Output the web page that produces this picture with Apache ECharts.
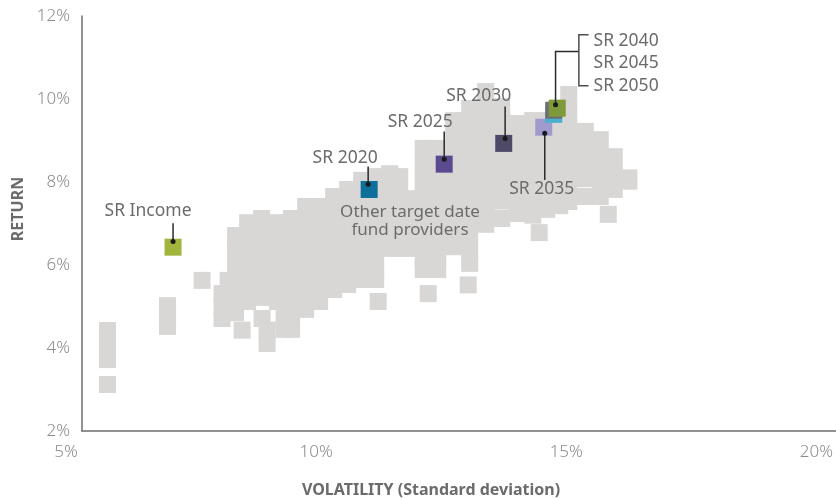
<!DOCTYPE html>
<html><head><meta charset="utf-8">
<script src="https://cdn.jsdelivr.net/npm/echarts@6/dist/echarts.min.js"></script>
<style>html,body{margin:0;padding:0;background:#fff}#c{width:836px;height:499px}</style>
</head><body><div id="c"></div>
<script>
// ---- data ----
const xTicks = [5, 10, 15, 20];
const yTicks = [2, 4, 6, 8, 10, 12];
const xTitle = 'VOLATILITY (Standard deviation)';
const yTitle = 'RETURN';
const otherLabel = ['Other target date', 'fund providers'];

const srNames = ['SR Income', 'SR 2020', 'SR 2025', 'SR 2030', 'SR 2035', 'SR 2050', 'SR 2045', 'SR 2040'];
const srVolatility = [7.14, 11.06, 12.56, 13.75, 14.55, 14.75, 14.75, 14.82];
const srReturn = [6.43, 7.82, 8.43, 8.93, 9.32, 9.63, 9.73, 9.78];
const srColors = ['#a3b43c', '#0e6f9a', '#5c4a90', '#4e4966', '#a09bcc', '#4ab0d0', '#6f6f73', '#7f9a3b'];

// other target date fund providers [volatility, return]
const otherFunds = [
  [5.83,4.42],[5.83,4.07],[5.83,3.72],[5.83,3.12],
  [7.03,5.02],[7.03,4.77],[7.03,4.52],
  [7.72,5.63],
  [8.12,5.31],[8.12,5.00],[8.12,4.71],
  [8.24,5.63],
  [8.39,6.71],[8.39,6.33],[8.39,5.95],[8.39,5.57],[8.39,5.19],[8.39,4.85],
  [8.52,4.43],
  [8.63,7.02],[8.63,6.64],[8.63,6.26],[8.63,5.88],[8.63,5.50],[8.63,5.12],
  [8.91,7.12],[8.91,6.74],[8.91,6.36],[8.91,5.98],[8.91,5.60],[8.91,5.22],
  [8.92,4.71],[9.02,4.43],[9.02,4.11],[9.36,4.71],[9.36,4.45],
  [9.23,7.02],[9.23,6.64],[9.23,6.26],[9.23,5.88],[9.23,5.50],[9.23,5.12],
  [9.51,7.12],[9.51,6.74],[9.51,6.36],[9.51,5.98],[9.51,5.60],[9.51,5.22],[9.51,4.84],[9.51,4.45],
  [9.79,7.41],[9.79,7.03],[9.79,6.65],[9.79,6.27],[9.79,5.89],[9.79,5.51],[9.79,5.17],[9.79,4.93],
  [10.07,7.41],[10.07,7.03],[10.07,6.65],[10.07,6.27],[10.07,5.89],[10.07,5.51],[10.07,5.12],
  [10.35,7.65],[10.35,7.27],[10.35,6.89],[10.35,6.51],[10.35,6.13],[10.35,5.75],[10.35,5.41],
  [10.63,7.82],[10.63,7.44],[10.63,7.06],[10.63,6.68],[10.63,6.30],[10.63,5.92],[10.63,5.53],
  [10.91,8.04],[10.91,7.67],[10.91,7.30],[10.91,6.93],[10.91,6.56],[10.91,6.19],[10.91,5.82],[10.91,5.65],
  [11.19,8.13],[11.19,7.75],[11.19,7.37],[11.19,6.99],[11.19,6.61],[11.19,6.23],[11.19,5.85],[11.19,5.65],
  [11.24,5.12],
  [11.47,8.20],[11.47,7.82],[11.47,7.44],[11.47,7.06],[11.47,6.68],[11.47,6.40],
  [11.67,8.13],[11.67,7.75],[11.67,7.37],[11.67,6.99],[11.67,6.61],[11.67,6.40],
  [11.89,7.60],[11.89,7.20],[11.89,6.80],[11.89,6.40],
  [12.14,8.81],[12.14,8.43],[12.14,8.05],[12.14,7.67],[12.14,7.29],[12.14,6.91],[12.14,6.53],[12.14,6.15],[12.14,5.89],
  [12.24,5.31],
  [12.43,8.81],[12.43,8.43],[12.43,8.05],[12.43,7.67],[12.43,7.29],[12.43,6.91],[12.43,6.53],[12.43,6.15],[12.43,5.89],
  [12.75,9.48],[12.75,9.10],[12.75,8.72],[12.75,8.34],[12.75,7.96],[12.75,7.58],[12.75,7.20],[12.75,6.82],[12.75,6.44],
  [13.07,9.77],[13.07,9.39],[13.07,9.01],[13.07,8.63],[13.07,8.25],[13.07,7.87],[13.07,7.49],[13.07,7.11],[13.07,6.73],[13.07,6.35],[13.07,6.04],
  [13.04,5.52],
  [13.39,10.18],[13.39,9.80],[13.39,9.42],[13.39,9.04],[13.39,8.66],[13.39,8.28],[13.39,7.90],[13.39,7.52],[13.39,7.14],[13.39,6.98],
  [13.71,9.82],[13.71,9.44],[13.71,9.06],[13.71,8.68],[13.71,8.30],[13.71,7.92],[13.71,7.54],[13.71,7.12],
  [14.03,9.41],[14.03,9.03],[14.03,8.65],[14.03,8.27],[14.03,7.89],[14.03,7.51],[14.03,7.24],
  [14.33,9.48],[14.33,9.10],[14.33,8.72],[14.33,8.34],[14.33,7.96],[14.33,7.58],[14.33,7.20],
  [14.46,6.78],
  [14.61,9.48],[14.61,9.10],[14.61,8.72],[14.61,8.34],[14.61,7.96],[14.61,7.58],[14.61,7.34],
  [14.87,9.48],[14.87,9.10],[14.87,8.72],[14.87,8.34],[14.87,7.96],[14.87,7.58],[14.87,7.43],
  [15.05,10.11],[15.05,9.73],[15.05,9.35],[15.05,8.97],[15.05,8.59],[15.05,8.21],[15.05,7.83],[15.05,7.53],
  [15.38,9.22],[15.38,8.84],[15.38,8.46],[15.38,8.08],[15.38,7.65],
  [15.68,9.02],[15.68,8.64],[15.68,8.26],[15.68,7.88],[15.68,7.65],
  [15.84,7.22],
  [15.96,8.61],[15.96,8.22],[15.96,7.82],
  [16.25,8.10],[16.25,8.02]
];

// ---- annotation layout (pixel offsets from the marker centre) ----
const FONT = "'Noto Sans', 'DejaVu Sans', sans-serif";
const annot = [
  {i: 0, dot: [0, -5.6], path: [[0, -5.6], [0, -24]], labels: [{t: 'SR Income', d: [-25, -36], a: 'center'}]},
  {i: 1, dot: [-1, -5.3], path: [[-1, -5.3], [-1, -23]], labels: [{t: 'SR 2020', d: [-24, -31], a: 'center'}]},
  {i: 2, dot: [0, -5], path: [[0, -5], [0, -32.6]], labels: [{t: 'SR 2025', d: [-24, -42], a: 'center'}]},
  {i: 3, dot: [1.4, -5], path: [[1.4, -5], [1.4, -37]], labels: [{t: 'SR 2030', d: [-25, -47], a: 'center'}]},
  {i: 4, dot: [1, 6], path: [[1, 6], [1, 52.7]], labels: [{t: 'SR 2035', d: [-2, 62], a: 'center'}]},
  {i: 7, dot: [-1.7, -3.3], path: [[-1.7, -3.3], [-1.7, -56.6], [21.6, -56.6]],
   bracket: [[31.3, -73.3], [21.6, -73.3], [21.6, -22.3], [31.3, -22.3]],
   labels: [{t: 'SR 2040', d: [36.3, -67.5], a: 'left'}, {t: 'SR 2045', d: [36.3, -44.8], a: 'left'}, {t: 'SR 2050', d: [36.3, -21.8], a: 'left'}]}
];

const chart = echarts.init(document.getElementById('c'), null, {renderer: 'canvas'});
const pct = v => v + '%';
const option = {
  animation: false,
  backgroundColor: '#ffffff',
  grid: [
    {left: 66, right: 19, top: 16, bottom: 68},
    {left: 82, right: 0, top: 16, bottom: 68}
  ],
  xAxis: [
    {gridIndex: 0, type: 'value', min: xTicks[0], max: xTicks[xTicks.length - 1], interval: 5,
     axisLine: {show: false}, axisTick: {show: false}, splitLine: {show: false},
     axisLabel: {formatter: pct, margin: 13, color: '#8c8c8c', fontSize: 17, fontFamily: FONT, fontWeight: 300}},
    {gridIndex: 1, type: 'value', min: 0, max: 1,
     axisLine: {show: true, lineStyle: {color: '#6d6d6d', width: 1.5}}, axisTick: {show: false},
     splitLine: {show: false}, axisLabel: {show: false}}
  ],
  yAxis: [
    {gridIndex: 0, type: 'value', min: yTicks[0], max: yTicks[yTicks.length - 1], interval: 2,
     axisLine: {show: false}, axisTick: {show: false}, splitLine: {show: false}, axisLabel: {show: false}},
    {gridIndex: 1, type: 'value', min: yTicks[0], max: yTicks[yTicks.length - 1], interval: 2,
     axisLine: {show: true, lineStyle: {color: '#6d6d6d', width: 1.5}}, axisTick: {show: false},
     splitLine: {show: false},
     axisLabel: {formatter: pct, margin: 12, color: '#8c8c8c', fontSize: 17, fontFamily: FONT, fontWeight: 300, padding: [5, 0, 0, 0]}}
  ],
  series: [
    {type: 'scatter', name: 'Other', xAxisIndex: 0, yAxisIndex: 0, symbol: 'rect', symbolSize: 17,
     itemStyle: {color: '#d8d7d5', opacity: 1}, silent: true, data: otherFunds, z: 2},
    {type: 'scatter', name: 'SR', xAxisIndex: 0, yAxisIndex: 0, symbol: 'rect', symbolSize: 17, silent: true, z: 3,
     data: srVolatility.map((v, k) => ({value: [v, srReturn[k]], name: srNames[k], itemStyle: {color: srColors[k], opacity: 1}}))}
  ]
};
chart.setOption(option);

const gfx = [];
gfx.push({type: 'text', x: 18, y: 209, rotation: Math.PI / 2, z: 10,
  style: {text: yTitle, font: 'bold 16px ' + FONT, fill: '#6b6b6b', align: 'center', verticalAlign: 'middle'}});
gfx.push({type: 'text', x: 431, y: 490, z: 10,
  style: {text: xTitle, font: 'bold 16px ' + FONT, fill: '#6b6b6b', align: 'center', verticalAlign: 'middle'}});
gfx.push({type: 'text', x: 410, y: 221, z: 10,
  style: {text: otherLabel.join('\n'), font: '17px ' + FONT, fill: '#6b6b6b', align: 'center', verticalAlign: 'middle', lineHeight: 18}});

annot.forEach(a => {
  const c = chart.convertToPixel({seriesIndex: 1}, [srVolatility[a.i], srReturn[a.i]]);
  const P = d => [c[0] + d[0], c[1] + d[1]];
  gfx.push({type: 'polyline', z: 20, shape: {points: a.path.map(P)}, style: {stroke: '#2b2b2b', lineWidth: 1.5, fill: null}});
  if (a.bracket) gfx.push({type: 'polyline', z: 20, shape: {points: a.bracket.map(P)}, style: {stroke: '#4d4d4d', lineWidth: 1.5, fill: null}});
  const dp = P(a.dot);
  gfx.push({type: 'circle', z: 21, shape: {cx: dp[0], cy: dp[1], r: 2.5}, style: {fill: '#1a1a1a'}});
  a.labels.forEach(l => {
    const lp = P(l.d);
    gfx.push({type: 'text', z: 22, x: lp[0], y: lp[1],
      style: {text: l.t, font: '17.5px ' + FONT, fill: '#6b6b6b', align: l.a, verticalAlign: 'middle'}});
  });
});
chart.setOption({graphic: gfx});
</script>
</body></html>
